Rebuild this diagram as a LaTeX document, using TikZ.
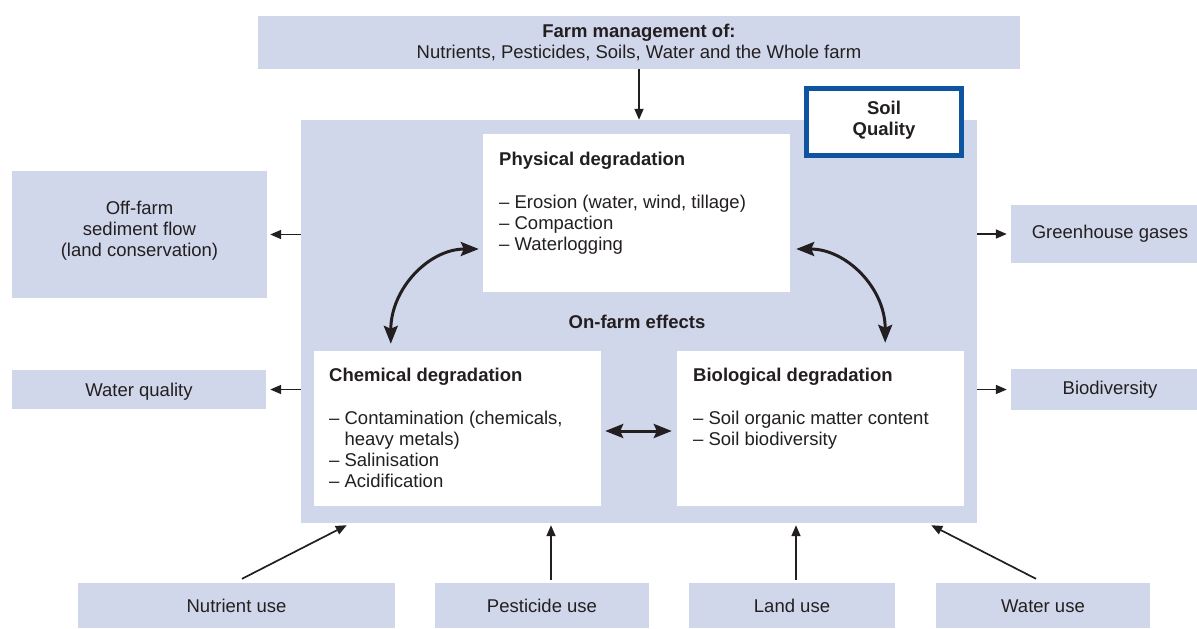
\documentclass[tikz,border=0pt]{standalone}
\usepackage{fontspec}
\setmainfont{Liberation Sans}
\usetikzlibrary{arrows.meta, positioning}
\definecolor{panel}{RGB}{209, 215, 234}
\definecolor{ink}{RGB}{35, 31, 32}
\definecolor{soilblue}{RGB}{14, 84, 160}

\begin{document}
\begin{tikzpicture}[
    x=1pt, y=-1pt,
    box/.style      = {fill=panel, inner sep=0pt, font=\fontsize{18.5}{21}\selectfont, text=ink, text height=13.3pt, text depth=0pt},
    card/.style     = {fill=white, inner sep=0pt},
    head/.style     = {font=\fontsize{18.5}{21}\selectfont\bfseries, text=ink, inner sep=0pt, anchor=base west},
    item/.style     = {font=\fontsize{18.5}{21}\selectfont, text=ink, inner sep=0pt, align=left, anchor=base west},
    arr/.style      = {draw=ink, line width=1.7pt, -{Triangle[length=11pt, width=9pt]}},
    curvearr/.style = {draw=ink, line width=3pt, {Stealth[length=18pt, width=14pt, inset=3pt]}-{Stealth[length=18pt, width=14pt, inset=3pt]}},
  ]
    \useasboundingbox (0,0) rectangle (1197,629);

    % --- top: farm management ---
    \node[box, minimum width=762pt, minimum height=53pt] (farm) at (639, 42.5) {};
    \node[head, anchor=base] (farmhead) at (639, 37) {Farm management of:};
    \node[item, anchor=base] (farmtxt) at (639, 58) {Nutrients, Pesticides, Soils, Water and the Whole farm};

    % --- main panel ---
    \node[box, minimum width=676pt, minimum height=403pt] (main) at (639, 321.5) {};
    \node[card, minimum width=307pt, minimum height=158pt] (phys) at (636.5, 213) {};
    \node[card, minimum width=287pt, minimum height=155pt] (chem) at (457.5, 428.5) {};
    \node[card, minimum width=287pt, minimum height=155pt] (bio) at (820.5, 428.5) {};
    \node[draw=soilblue, line width=5pt, fill=white, inner sep=0pt,
          minimum width=155pt, minimum height=67pt] (soil) at (884, 122) {};
    % (multi-line nodes sit on their last baseline)
    \node[head, anchor=base, align=center] (soiltxt) at (884, 135) {Soil\\Quality};

    % physical
    \node[head] (physhead) at (499, 165) {Physical degradation};
    \node[item] (physlist) at (499, 250) {– Erosion (water, wind, tillage)\\– Compaction\\– Waterlogging};

    % chemical
    \node[head] (chemhead) at (329, 381) {Chemical degradation};
    \node[item] (chemlist) at (329, 487) {– Contamination (chemicals,\\\phantom{– }heavy metals)\\– Salinisation\\– Acidification};

    % biological
    \node[head] (biohead) at (693, 381) {Biological degradation};
    \node[item] (biolist) at (693, 445) {– Soil organic matter content\\– Soil biodiversity};

    \node[head, anchor=base] (onfarm) at (637, 328) {On-farm effects};

    % --- off-farm side ---
    \node[box, minimum width=255pt, minimum height=127pt] (offfarm) at (139.5, 234.5) {};
    \node[item, anchor=base, align=center] (offfarmtxt) at (139.5, 256) {Off-farm\\sediment flow\\(land conservation)};
    \node[box, minimum width=254pt, minimum height=39pt] (waterq) at (139, 389.5) {Water quality};

    \node[box, minimum width=186pt, minimum height=58pt] (ghg) at (1104, 234) {};
    \node[item, anchor=base] (ghgtxt) at (1110, 238) {Greenhouse gases};
    \node[box, minimum width=186pt, minimum height=41pt] (biod) at (1104, 389.5) {};
    \node[item, anchor=base] (biodtxt) at (1110, 394) {Biodiversity};

    % --- bottom: uses ---
    \node[box, minimum width=317pt, minimum height=45pt] (nutrient) at (236.5, 605.5) {Nutrient use};
    \node[box, minimum width=214pt, minimum height=45pt] (pest) at (542, 605.5) {Pesticide use};
    \node[box, minimum width=206pt, minimum height=45pt] (land) at (792, 605.5) {Land use};
    \node[box, minimum width=214pt, minimum height=45pt] (wateruse) at (1043, 605.5) {Water use};

    % --- arrows ---
    \draw[arr] (farm.south) -- (main.north);

    \draw[arr, shorten >=3pt] (offfarm.east -| main.west) -- (offfarm.east);
    \draw[arr, shorten >=4pt] (waterq.east -| main.west) -- (waterq.east);
    \draw[arr, shorten >=4pt] (ghg.west -| main.east) -- (ghg.west);
    \draw[arr, shorten >=4pt] (biod.west -| main.east) -- (biod.west);

    \draw[arr] ([xshift=5.5pt, yshift=4pt]nutrient.north) -- ([xshift=46pt, yshift=-2pt]main.south west);
    \draw[arr] ([xshift=9pt, yshift=3pt]pest.north) -- ([xshift=-88pt, yshift=-2pt]main.south);
    \draw[arr] ([xshift=4pt, yshift=3pt]land.north) -- ([xshift=157pt, yshift=-2pt]main.south);
    \draw[arr] ([xshift=-7pt, yshift=4pt]wateruse.north) -- ([xshift=-46pt, yshift=-2pt]main.south east);

    \draw[curvearr] ([xshift=-4pt, yshift=-36pt]phys.west) .. controls +(-50,0) and +(0,-55) .. ([xshift=77pt, yshift=7pt]chem.north west);
    \draw[curvearr] ([xshift=6pt, yshift=-36pt]phys.east) .. controls +(50,0) and +(0,-55) .. ([xshift=-79pt, yshift=8pt]bio.north east);
    \draw[curvearr, shorten <=4pt, shorten >=5pt] ([yshift=-2.5pt]chem.east) -- ([yshift=-2.5pt]bio.west);

  \end{tikzpicture}
\end{document}
